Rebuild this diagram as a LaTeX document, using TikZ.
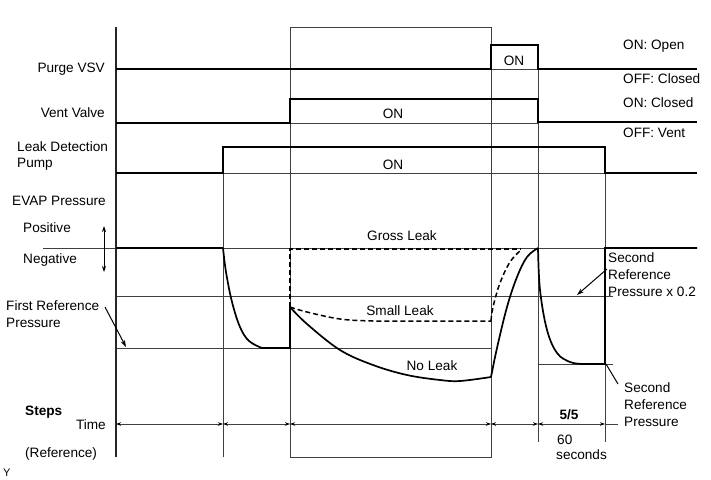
\documentclass[tikz,border=0pt]{standalone}
\usepackage{fontspec}
\setmainfont{Liberation Sans}
\usetikzlibrary{arrows.meta}
\begin{document}
\begin{tikzpicture}[x=1pt,y=-1pt,
  sig/.style={line width=1.7pt, line join=miter},
  thinl/.style={line width=0.8pt, black!75},
  axisl/.style={line width=1.3pt, black!85},
  dsig/.style={line width=1.5pt, dash pattern=on 5pt off 3pt},
  lbl/.style={font=\fontsize{13.6}{17}\selectfont, inner sep=0pt},
  dimarr/.style={thinl, {Stealth[length=5pt,width=3.5pt,color=black]}-{Stealth[length=5pt,width=3.5pt,color=black]}},
  ptr/.style={line width=1pt, -{Stealth[length=7pt,width=4.5pt]}}]
\useasboundingbox (0,0) rectangle (711,479);
\fill[white] (0,0) rectangle (711,479);

% reference grid lines
\draw[thinl] (43,248) -- (605,248);
\draw[thinl] (116,296) -- (613,296);
\draw[thinl] (116,348) -- (491,348);
\draw[thinl] (538,364) -- (613,364);
\draw[thinl] (491,69) -- (538,69);
\draw[thinl] (290,123) -- (538,123);
\draw[thinl] (223,173) -- (605,173);
% vertical lines
\draw[thinl] (223,147) -- (223,457);
\draw[thinl] (290,27) rectangle (491,457);
\draw[thinl] (538,45) -- (538,442);
\draw[thinl] (605,147) -- (605,442);
\draw[axisl] (116,27) -- (116,457);

% signals
\draw[sig] (116,69) -- (491,69) -- (491,45) -- (538,45) -- (538,69) -- (697,69);
\draw[sig] (116,123) -- (290,123) -- (290,99) -- (538,99) -- (538,122) -- (697,122);
\draw[sig] (116,173) -- (223,173) -- (223,147) -- (605,147) -- (605,173) -- (697,173);

% pressure curves
\draw[sig] (116,248) -- (223,248)
  plot[smooth, tension=0.6] coordinates {(223,248) (226,272) (232,302) (240,327) (249,341) (262,348)}
  -- (290,348) -- (290,307);
\draw[sig] plot[smooth, tension=0.6] coordinates {(290,307) (307,324) (340,350) (373,365) (407,375) (440,380) (460,381) (491,377)};
\draw[sig] plot[smooth, tension=0.6] coordinates {(491,377) (497,348) (507,307) (517,277) (527,257) (538,248)};
\draw[sig] plot[smooth, tension=0.6] coordinates {(538,248) (540,290) (547,330) (557,353) (570,362) (582,364)}
  -- (605,364) -- (605,248) -- (697,248);
\draw[dsig] (290,307) -- (290,249) -- (521,249);
\draw[dsig] plot[smooth, tension=0.6] coordinates {(290,307) (307,312) (340,319) (373,321) (410,321)} -- (491,321);
\draw[dsig] plot[smooth, tension=0.6] coordinates {(491,321) (493,307) (500,283) (510,262) (521,250)};

% labels left
\node[lbl, anchor=base east] (purge) at (105,72) {Purge VSV};
\node[lbl, anchor=base east] (vent) at (105,117) {Vent Valve};
\node[lbl, anchor=base west] (ldp1) at (17,151) {Leak Detection};
\node[lbl, anchor=base west] (ldp2) at (17,167) {Pump};
\node[lbl, anchor=base west] (evap) at (12,205) {EVAP Pressure};
\node[lbl, anchor=base west] (pos) at (23,232) {Positive};
\node[lbl, anchor=base west] (neg) at (23,263) {Negative};
\node[lbl, anchor=base west] (frp1) at (6,310) {First Reference};
\node[lbl, anchor=base west] (frp2) at (6,327) {Pressure};
\node[lbl, anchor=base west, font=\fontsize{13.6}{17}\selectfont\bfseries] (steps) at (25,415) {Steps};
\node[lbl, anchor=base east] (time) at (106,429) {Time};
\node[lbl, anchor=base west] (refl) at (25,457) {(Reference)};
\node[lbl, anchor=base west, font=\fontsize{11}{13}\selectfont] (ylbl) at (3,476) {Y};

% labels right
\node[lbl, anchor=base west] (onopen) at (623,49) {ON: Open};
\node[lbl, anchor=base west] (offcl) at (623,83) {OFF: Closed};
\node[lbl, anchor=base west] (oncl) at (623,107) {ON: Closed};
\node[lbl, anchor=base west] (offvent) at (623,137) {OFF: Vent};
\node[lbl, anchor=base] (on1) at (514,65) {ON};
\node[lbl, anchor=base] (on2) at (393,118) {ON};
\node[lbl, anchor=base] (on3) at (393,169) {ON};
\node[lbl, anchor=base] (gross) at (402,240) {Gross Leak};
\node[lbl, anchor=base] (small) at (400,315) {Small Leak};
\node[lbl, anchor=base] (noleak) at (432,370) {No Leak};
\node[lbl, anchor=base west] (srp1) at (608,262) {Second};
\node[lbl, anchor=base west] (srp2) at (608,279) {Reference};
\node[lbl, anchor=base west] (srp3) at (608,296) {Pressure x 0.2};
\node[lbl, anchor=base west] (sr1) at (624,392) {Second};
\node[lbl, anchor=base west] (sr2) at (624,409) {Reference};
\node[lbl, anchor=base west] (sr3) at (624,426) {Pressure};
\node[lbl, anchor=base, font=\fontsize{13.6}{17}\selectfont\bfseries] (step55) at (569,419) {5/5};
\node[lbl, anchor=base west] (sixty) at (557,444) {60};
\node[lbl, anchor=base west] (secs) at (556,459) {seconds};

% pointers
\coordinate (pa) at (104,226);
\coordinate (pb) at (104,272);
\draw[line width=0.9pt, {Stealth[length=6pt,width=4pt]}-{Stealth[length=6pt,width=4pt]}] (pa) -- (pb);
\coordinate (frpS) at (105,307);
\coordinate (frpE) at (126,347);
\draw[ptr] (frpS) -- (frpE);
\coordinate (srpS) at (607,269);
\coordinate (srpE) at (577,295);
\draw[ptr] (srpS) -- (srpE);
\coordinate (srS) at (606,364);
\coordinate (srE) at (618,384);
\draw[line width=1pt] (srS) -- (srE);

% time row
\coordinate (t0) at (116,424);
\coordinate (t1) at (223,424);
\coordinate (t2) at (290,424);
\coordinate (t3) at (491,424);
\coordinate (t4) at (538,424);
\coordinate (t5) at (605,424);
\coordinate (t6) at (618,424);
\draw[dimarr] (t0) -- (t1);
\draw[dimarr] (t1) -- (t2);
\draw[dimarr] (t2) -- (t3);
\draw[dimarr] (t3) -- (t4);
\draw[dimarr] (t4) -- (t5);
\draw[thinl] (t5) -- (t6);
\end{tikzpicture}
\end{document}
